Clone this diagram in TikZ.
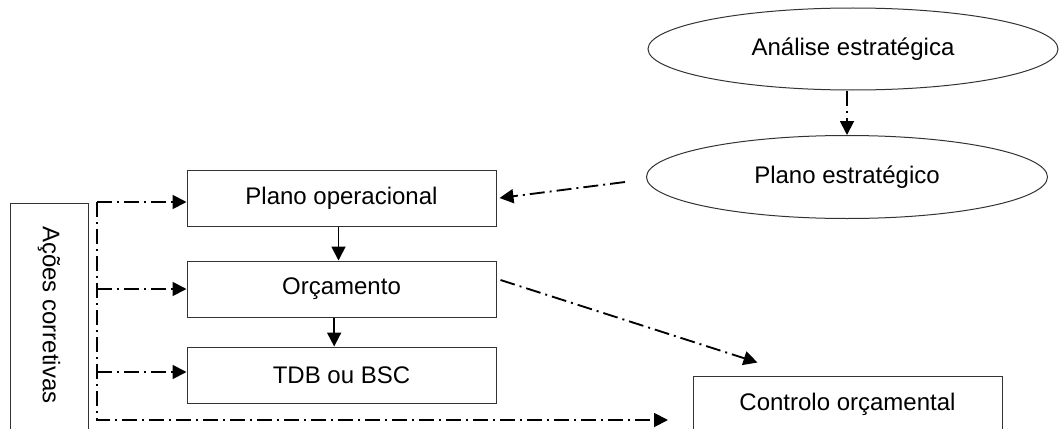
\documentclass[tikz,border=0pt]{standalone}
\usepackage{fontspec}
\setmainfont{Liberation Sans}
\usetikzlibrary{shapes.geometric,arrows.meta}

\begin{document}
\begin{tikzpicture}[x=0.75pt,y=-0.75pt,
  caixa/.style={draw=black!80,line width=0.75pt,minimum width=231.75pt,minimum height=42pt,inner sep=0pt,font=\fontsize{18}{22}\selectfont},
  elipse/.style={ellipse,draw=black!80,line width=0.75pt,inner sep=0pt,font=\fontsize{18}{22}\selectfont},
  seta/.style={line width=1.4pt,-{Triangle[length=10.5pt,width=10.5pt]}},
  traco/.style={seta,dash pattern=on 11.25pt off 3.75pt on 1.5pt off 3.75pt}]
 \useasboundingbox (0,0) rectangle (1059,428);
 \clip (0,0) rectangle (1059,428);
 %\draw[step=50, gray, very thin] (0,0) grid (1059,428);
 \node[elipse,minimum width=307.5pt,minimum height=61.5pt] (analise) at (853,49) {Análise estratégica};
 \node[elipse,minimum width=300.75pt,minimum height=62.25pt] (plest) at (847,177) {Plano estratégico};
 \node[caixa] (plop) at (341.5,198) {Plano operacional};
 \node[caixa] (orc) at (341.5,289) {Orçamento};
 \node[caixa] (tdb) at (341.5,375) {TDB ou BSC};
 \node[caixa] (ctrl) at (847.5,404) {Controlo orçamental};

 \draw[draw=black!80,line width=0.75pt] (10,203) rectangle (88,445);
 \node[rotate=-90,font=\fontsize{18}{22}\selectfont] (acoes) at (49,315) {Ações corretivas};

 \coordinate (bus) at (97,202);
 \coordinate (canto) at (97,420);
 \coordinate (fim) at (668,420);

 \draw[traco] (analise.south -| plest.north) -- (plest.north);
 \draw[traco] ([shift={(-21,5)}]plest.west) -- ([shift={(3,0)}]plop.east);
 \draw[seta] ([xshift=-2.25pt]plop.south) -- ([xshift=-2.25pt]orc.north);
 \draw[seta] ([xshift=-5.5pt]orc.south) -- ([xshift=-5.5pt]tdb.north);
 \draw[traco] ([shift={(4,-9)}]orc.east) -- ([shift={(65,-13)}]ctrl.north west);

 \draw[traco] (bus) -- (canto) -- (fim);
 \draw[traco] (bus) -- (bus -| plop.west);
 \draw[traco] (bus |- orc.west) -- (orc.west);
 \draw[traco] ([yshift=2.25pt]bus |- tdb.west) -- ([yshift=2.25pt]tdb.west);
\end{tikzpicture}
\end{document}
